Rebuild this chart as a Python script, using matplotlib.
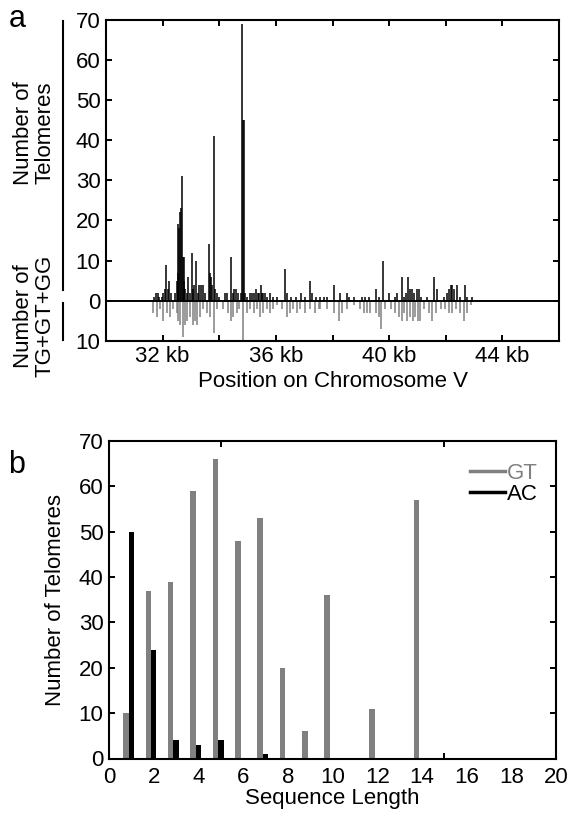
import matplotlib
matplotlib.use('Agg')
import matplotlib.pyplot as plt
from matplotlib.lines import Line2D
from matplotlib.ticker import FuncFormatter

plt.rcParams['font.family'] = ['Liberation Sans', 'DejaVu Sans']
plt.rcParams['font.size'] = 16

W, H = 571, 817

# panel a: telomere counts (up, black) and TG+GT+GG counts (down, grey) along chromosome V, in kb
tel_pos = [31.70, 31.76, 31.82, 31.88, 31.97, 32.03, 32.08, 32.13, 32.18, 32.24, 32.30,
           32.45, 32.50, 32.53, 32.56, 32.59, 32.62, 32.65, 32.68, 32.71, 32.74, 32.77, 32.80,
           32.86, 32.91, 32.96, 33.02, 33.07, 33.12, 33.18, 33.24, 33.30, 33.36, 33.42, 33.50,
           33.64, 33.68, 33.72, 33.76, 33.80, 33.86, 33.92, 33.98, 34.20, 34.28, 34.41, 34.47,
           34.53, 34.60, 34.67, 34.78, 34.82, 34.85, 34.88, 34.92, 34.98, 35.08, 35.16, 35.24,
           35.30, 35.36, 35.42, 35.48, 35.52, 35.56, 35.62, 35.70, 35.80, 35.90, 36.05, 36.33,
           36.40, 36.52, 36.70, 36.90, 37.04, 37.19, 37.27, 37.40, 37.55, 37.70, 37.81, 38.06,
           38.28, 38.51, 38.57, 38.75, 39.04, 39.16, 39.28, 39.52, 39.63, 39.77, 39.99, 40.20,
           40.28, 40.46, 40.54, 40.61, 40.66, 40.73, 40.81, 40.87, 40.97, 41.05, 41.11, 41.35,
           41.58, 41.70, 41.93, 42.05, 42.11, 42.17, 42.23, 42.29, 42.41, 42.52, 42.67, 42.76,
           42.94]
tel_cnt = [1, 2, 2, 1, 1, 2, 3, 9, 3, 5, 2,
           2, 5, 7, 19, 18, 22, 23, 31, 11, 11, 5, 3,
           2, 6, 2, 12, 3, 4, 10, 2, 4, 4, 4, 2,
           14, 7, 6, 4, 41, 3, 2, 1, 2, 2, 11, 2,
           3, 3, 2, 2, 69, 45, 45, 2, 1, 2, 2, 2,
           3, 2, 2, 4, 2, 2, 2, 1, 2, 1, 1, 8,
           2, 1, 1, 2, 1, 5, 2, 1, 1, 1, 1, 4,
           2, 2, 1, 1, 1, 1, 1, 3, 1, 10, 2, 1,
           2, 6, 1, 2, 6, 3, 3, 2, 3, 3, 1, 1,
           6, 3, 1, 2, 3, 4, 4, 3, 4, 1, 4, 1,
           1]

rep_pos = [31.67, 31.79, 31.90, 32.02, 32.14, 32.26, 32.38, 32.50, 32.55, 32.61, 32.71,
           32.79, 32.87, 32.97, 33.06, 33.14, 33.22, 33.32, 33.44, 33.56, 33.67, 33.82,
           33.91, 34.15, 34.32, 34.41, 34.50, 34.62, 34.71, 34.85, 34.97, 35.09, 35.21,
           35.33, 35.44, 35.56, 35.68, 35.80, 35.91, 36.04, 36.21, 36.39, 36.51, 36.62,
           36.74, 36.86, 37.04, 37.21, 37.39, 37.51, 37.57, 37.81, 38.04, 38.22, 38.34,
           38.51, 38.75, 38.98, 39.10, 39.22, 39.34, 39.52, 39.63, 39.73, 39.87, 40.05,
           40.22, 40.34, 40.46, 40.54, 40.64, 40.75, 40.85, 40.93, 41.01, 41.08, 41.22,
           41.40, 41.52, 41.64, 41.82, 41.99, 42.11, 42.23, 42.35, 42.52, 42.64, 42.76,
           42.90]
rep_cnt = [3, 4, 2, 5, 3, 4, 2, 3, 5, 6, 9,
           6, 5, 4, 6, 5, 6, 4, 2, 3, 4, 8,
           2, 2, 3, 5, 4, 3, 2, 10, 3, 2, 3,
           2, 4, 3, 2, 3, 2, 1, 2, 4, 3, 2,
           3, 2, 3, 2, 3, 2, 2, 2, 3, 5, 3,
           2, 1, 2, 3, 3, 3, 3, 4, 7, 2, 2,
           3, 4, 5, 3, 5, 4, 5, 4, 5, 5, 2,
           3, 5, 3, 2, 2, 3, 3, 2, 3, 5, 3,
           1]

# panel b: telomeres per sequence length
seq_len = list(range(1, 21))
gt_cnt = [10, 37, 39, 59, 66, 48, 53, 20, 6, 36, 0, 11, 0, 57, 0, 0, 0, 0, 0, 0]
ac_cnt = [50, 24, 4, 3, 4, 0, 1, 0, 0, 0, 0, 0, 0, 0, 0, 0, 0, 0, 0, 0]

GREY = '#808080'

fig = plt.figure(figsize=(W / 100, H / 100), dpi=100)


def box(l, t, r, b):
    return [l / W, 1 - b / H, (r - l) / W, (b - t) / H]


# ---- panel a ----
ax1 = fig.add_axes(box(106, 20, 559, 340.7))
ax1.vlines(tel_pos, 0, tel_cnt, color='black', lw=1.1)
ax1.vlines(rep_pos, 0, [-v for v in rep_cnt], color=GREY, lw=1.1)
ax1.axhline(0, color='black', lw=1.4)
ax1.set_xlim(30, 46)
ax1.set_ylim(-10, 70)
ax1.set_xticks([32, 36, 40, 44])
ax1.set_xticklabels(['32 kb', '36 kb', '40 kb', '44 kb'])
ax1.set_xticks([34, 38, 42], minor=True)
ax1.set_yticks(range(-10, 71, 10))
ax1.yaxis.set_major_formatter(FuncFormatter(lambda v, p: f'{abs(int(v))}'))
ax1.tick_params(which='both', direction='in', top=True, right=True, length=4, width=1.4)
ax1.tick_params(axis='x', pad=4)
ax1.tick_params(axis='y', pad=4)
ax1.set_xlabel('Position on Chromosome V', labelpad=3)
for s in ax1.spines.values():
    s.set_linewidth(1.5)

# split y label with bars
fig.text(34 / W, 1 - 133 / H, 'Number of\nTelomeres', rotation=90,
         ha='center', va='center', multialignment='center', linespacing=1.05)
fig.text(34 / W, 1 - 316 / H, 'Number of\nTG+GT+GG', rotation=90,
         ha='center', va='center', multialignment='center', linespacing=1.05)
fig.add_artist(Line2D([63 / W, 63 / W], [1 - 21 / H, 1 - 290 / H], color='black', lw=1.5))
fig.add_artist(Line2D([63 / W, 63 / W], [1 - 303 / H, 1 - 340 / H], color='black', lw=1.5))

fig.text(17 / W, 1 - 19 / H, 'a', fontsize=22, ha='center', va='center')

# ---- panel b ----
ax2 = fig.add_axes(box(109, 441, 556, 758.5))
ax2.bar([n - 0.24 for n in seq_len], gt_cnt, width=0.25, color=GREY)
ax2.bar(seq_len, ac_cnt, width=0.25, color='black')
ax2.set_xlim(0, 20)
ax2.set_ylim(0, 70)
ax2.set_xticks(range(0, 21, 2))
ax2.set_xticks([5, 10, 15], minor=True)
ax2.set_yticks(range(0, 71, 10))
ax2.tick_params(axis='x', which='major', length=0, pad=6)
ax2.tick_params(axis='x', which='minor', direction='in', top=True, length=4, width=1.4)
ax2.tick_params(axis='y', direction='in', right=True, length=4, width=1.4, pad=4)
ax2.set_xlabel('Sequence Length', labelpad=0)
ax2.set_ylabel('Number of Telomeres', labelpad=9)
for s in ax2.spines.values():
    s.set_linewidth(1.5)

handles = [Line2D([], [], color=GREY, lw=2.5), Line2D([], [], color='black', lw=2.5)]
ax2.legend(handles, ['GT', 'AC'], loc='upper right', frameon=False,
           labelcolor='linecolor', handlelength=1.6, handletextpad=0.1,
           labelspacing=0.0, borderaxespad=0.3, bbox_to_anchor=(0.995, 0.98))

fig.text(17 / W, 1 - 465 / H, 'b', fontsize=22, ha='center', va='center')

fig.savefig('out.png', dpi=100)
